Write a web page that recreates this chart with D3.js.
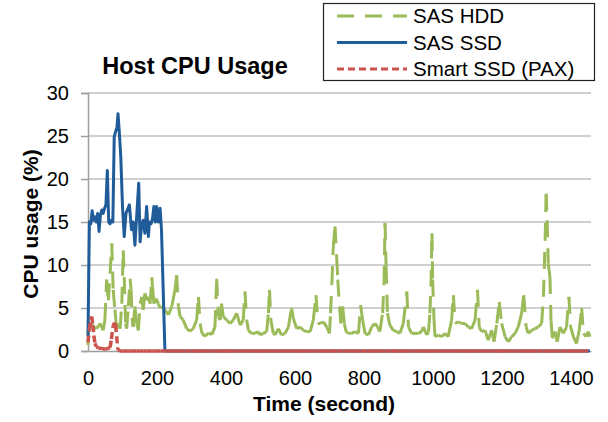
<!DOCTYPE html>
<html><head><meta charset="utf-8">
<script src="https://cdn.jsdelivr.net/npm/d3@7/dist/d3.min.js"></script>
<style>body{margin:0;background:#fff}svg{display:block;font-family:"Liberation Sans",Arial,sans-serif}</style>
</head><body><svg id="c" width="608" height="422"></svg>
<script>
const seriesNames = ["SAS HDD", "SAS SSD", "Smart SSD (PAX)"];
const xTicks = [0,200,400,600,800,1000,1200,1400];
const yTicks = [0,5,10,15,20,25,30];
const chartTitle = "Host CPU Usage";
const xTitle = "Time (second)";
const yTitle = "CPU usage (%)";

// SAS HDD: [time s, cpu %]
const sasHdd = [[0,0.7],[1,2.4],[6,3.2],[11,3.2],[15,2.8],[25,2.6],[35,3.2],[44,2.4],[49,3.6],[54,8.3],[59,5.9],[64,9],[69,12.5],[73,7.1],[78,4.8],[83,2.6],[88,3.2],[93,2.6],[98,5.5],[102,11.7],[105,8.6],[109,3.2],[112,2.6],[117,5.2],[122,8.4],[125,7.1],[128,3.6],[131,2.8],[136,5.2],[141,3.2],[146,2.4],[151,5.5],[156,6.3],[160,4.8],[165,6.7],[170,5.9],[175,6.3],[180,5.5],[185,8.6],[187,7.5],[191,5.5],[197,6.1],[204,5.5],[209,5.0],[214,5.2],[218,5.0],[223,4.8],[233,4.2],[243,5.2],[252,7.1],[257,8.8],[262,5.2],[267,4.0],[276,3.6],[286,2.6],[296,2.3],[305,2.6],[315,3.6],[320,6.3],[325,3.2],[330,2.1],[339,1.7],[349,2.1],[359,1.9],[368,2.8],[373,8.4],[378,4.0],[383,3.6],[387,5.5],[392,4.0],[402,3.6],[412,3.2],[421,3.6],[431,4.4],
[441,3.0],[450,3.6],[455,6.9],[460,3.6],[465,2.4],[474,2.05],[484,2.05],[494,2.25],[499,1.86],[508,2.05],[518,2.25],[523,4.4],[526,7.1],[530,3.6],[537,2.05],[542,1.86],[552,2.6],[561,1.86],[571,2.05],[581,2.8],[590,5.0],[595,3.8],[605,2.6],[615,2.8],[624,2.4],[634,2.25],[644,2.25],[653,3.6],[661,6.5],[666,3.2],[673,3.2],[682,3.4],[692,2.8],[700,2.05],[703,4.4],[707,7.9],[711,12.1],[716,14.5],[721,10.8],[724,8.3],[729,5.2],[733,3.2],[738,5.2],[743,3.2],[748,2.25],[755,2.05],[764,2.05],[774,2.25],[784,2.05],[790,5.35],[796,3.6],[803,2.05],[813,1.86],[822,2.8],[832,3.2],[839,2.8],[846,2.25],[854,4.4],[858,7.9],[861,14.85],[864,9.8],[868,4.4],[875,3.0],[885,2.4],[895,2.25],[904,2.05],[914,3.2],[924,6.9],[929,2.8],[938,2.05],[948,2.05],[958,2.05],[967,2.25],
[972,2.8],[982,1.86],[987,2.25],[991,4.4],[994,7.5],[997,13.7],[999,8.3],[1003,3.6],[1006,1.66],[1016,1.86],[1025,1.66],[1035,2.05],[1044,1.66],[1054,3.6],[1059,6.5],[1064,3.2],[1073,3.4],[1083,3.2],[1093,3.2],[1102,2.8],[1112,2.6],[1122,3.6],[1129,7.1],[1134,2.8],[1141,2.25],[1151,2.4],[1160,1.26],[1170,2.4],[1177,1.07],[1185,3.2],[1192,5.7],[1199,3.2],[1209,1.66],[1218,1.07],[1228,1.66],[1238,2.05],[1247,2.8],[1257,4.4],[1263,6.5],[1270,2.8],[1276,2.05],[1286,2.4],[1296,2.6],[1305,2.8],[1315,3.2],[1320,6.3],[1325,12.9],[1328,18.3],[1331,15.2],[1334,10.2],[1339,8.6],[1342,3.6],[1346,1.47],[1354,2.25],[1360,1.07],[1368,2.8],[1378,2.05],[1387,2.8],[1394,6.3],[1399,2.8],[1407,1.66],[1416,0.87],[1424,2.44],[1431,5.0],[1436,2.05],[1444,1.66],[1450,2.25],[1455,1.66]];

// SAS SSD
const sasSsd = [[0,1.7],[4,15.0],[8,14.8],[12,16.3],[16,15.2],[20,15.6],[24,15.0],[28,16.0],[32,13.9],[36,15.8],[40,16.4],[44,16.0],[48,16.6],[52,17.0],[56,21.0],[60,15.0],[64,14.8],[68,15.2],[72,15.0],[76,24.9],[80,25.5],[84,26.0],[87,27.6],[91,25.3],[95,22.6],[100,16.8],[105,13.3],[110,16.0],[114,16.4],[120,17.0],[126,14.1],[131,15.0],[136,12.3],[141,15.6],[147,19.5],[151,12.7],[156,14.8],[160,15.2],[165,13.7],[170,16.8],[175,13.3],[178,15.0],[183,14.8],[187,15.4],[191,16.8],[195,15.0],[199,16.8],[204,15.0],[209,16.6],[213,14.1],[223,0],[1455,0]];

// Smart SSD (PAX): active phase, then idle samples every 10 s at 0 %
const smartSsdActive = [[0,1.0],[4,2.5],[8,3.6],[11,4.0],[14,3.0],[17,1.8],[20,0.9],[24,0.5],[30,0.35],[40,0.3],[50,0.2],[58,0.3],[64,0.4],[68,1.4],[72,2.8],[77,3.3],[80,3.0],[83,1.7],[87,0.1],[92,0]];
const smartSsdIdleStart = 100, smartSsdIdleStep = 10;
const smartSsdIdle = [0,0,0,0,0,0,0,0,0,0,0,0,0,0,0,0,0,0,0,0,0,0,0,0,0,0,0,0,0,0,0,0,0,0,0,0,0,0,0,0,0,0,0,0,0,0,0,0,0,0,0,0,0,0,0,0,0,0,0,0,0,0,0,0,0,0,0,0,0,0,0,0,0,0,0,0,0,0,0,0,0,0,0,0,0,0,0,0,0,0,0,0,0,0,0,0,0,0,0,0,0,0,0,0,0,0,0,0,0,0,0,0,0,0,0,0,0,0,0,0,0,0,0,0,0,0,0,0,0,0,0,0,0,0,0,0];
const smartSsd = smartSsdActive.concat(smartSsdIdle.map((v,i)=>[smartSsdIdleStart + i*smartSsdIdleStep, v]));

const colors = ["#9BBB59", "#1F5C99", "#CC524D"];
const widths = [3, 3, 3.5];
const dashes = ["17,11", null, "7,4"];
const data = [sasHdd, sasSsd, smartSsd];

const svg = d3.select("#c");
const m = {l:88, r:591, t:93, b:351};
const x = d3.scaleLinear().domain([0,1458]).range([m.l, m.r]);
const y = d3.scaleLinear().domain([0,30]).range([m.b, m.t]);

// gridlines
svg.append("g").selectAll("line").data(yTicks.filter(d=>d>0)).join("line")
  .attr("x1", m.l).attr("x2", m.r).attr("y1", d=>y(d)).attr("y2", d=>y(d))
  .attr("stroke", "#C0C0C0").attr("stroke-width", 1.5);

// y axis
const ya = svg.append("g").attr("transform", `translate(${m.l},0)`)
  .call(d3.axisLeft(y).tickValues(yTicks).tickSize(7).tickPadding(12).tickFormat(d3.format("d")));
ya.select(".domain").attr("stroke", "#A0A0A0").attr("stroke-width", 1.5);
ya.selectAll(".tick line").attr("stroke", "#A0A0A0").attr("stroke-width", 1.5);
ya.selectAll("text").attr("font-size", 20).attr("fill", "#000").attr("font-family", "Liberation Sans, Arial");

// x axis (labels only)
const xa = svg.append("g").attr("transform", `translate(0,${m.b})`)
  .call(d3.axisBottom(x).tickValues(xTicks).tickSize(0).tickPadding(20).tickFormat(d3.format("d")));
xa.select(".domain").attr("stroke", "#A0A0A0").attr("stroke-width", 1.5);
xa.selectAll("text").attr("font-size", 20).attr("fill", "#000").attr("font-family", "Liberation Sans, Arial");

// lines: dash pattern restarts on each segment (as in the source chart)
data.forEach((s,i)=>{
  const g = svg.append("g");
  if (!dashes[i]) {
    g.append("path").datum(s).attr("d", d3.line().x(d=>x(d[0])).y(d=>y(d[1])))
      .attr("fill","none").attr("stroke", colors[i]).attr("stroke-width", widths[i])
      .attr("stroke-linejoin","round");
  } else {
    g.selectAll("line").data(d3.pairs(s)).join("line")
      .attr("x1", d=>x(d[0][0])).attr("y1", d=>y(d[0][1]))
      .attr("x2", d=>x(d[1][0])).attr("y2", d=>y(d[1][1]))
      .attr("stroke", colors[i]).attr("stroke-width", widths[i])
      .attr("stroke-dasharray", dashes[i]);
  }
});

// titles
svg.append("text").attr("x",195).attr("y",74).attr("text-anchor","middle")
  .attr("font-size",23.5).attr("font-weight","bold").text(chartTitle);
svg.append("text").attr("x",324).attr("y",411).attr("text-anchor","middle")
  .attr("font-size",21).attr("font-weight","bold").text(xTitle);
svg.append("text").attr("transform","translate(38,224) rotate(-90)").attr("text-anchor","middle")
  .attr("font-size",21).attr("font-weight","bold").text(yTitle);

// legend
const lg = svg.append("g");
lg.append("rect").attr("x",323.5).attr("y",3.5).attr("width",271).attr("height",77)
  .attr("fill","#fff").attr("stroke","#222").attr("stroke-width",1.2);
seriesNames.forEach((n,i)=>{
  const cy = 16 + i*26.5;
  lg.append("line").attr("x1",337).attr("x2",407).attr("y1",cy).attr("y2",cy)
    .attr("stroke",colors[i]).attr("stroke-width",3).attr("stroke-dasharray",dashes[i]);
  lg.append("text").attr("x",413).attr("y",cy).attr("dy","0.36em").attr("font-size",20.5).text(n);
});
</script></body></html>
